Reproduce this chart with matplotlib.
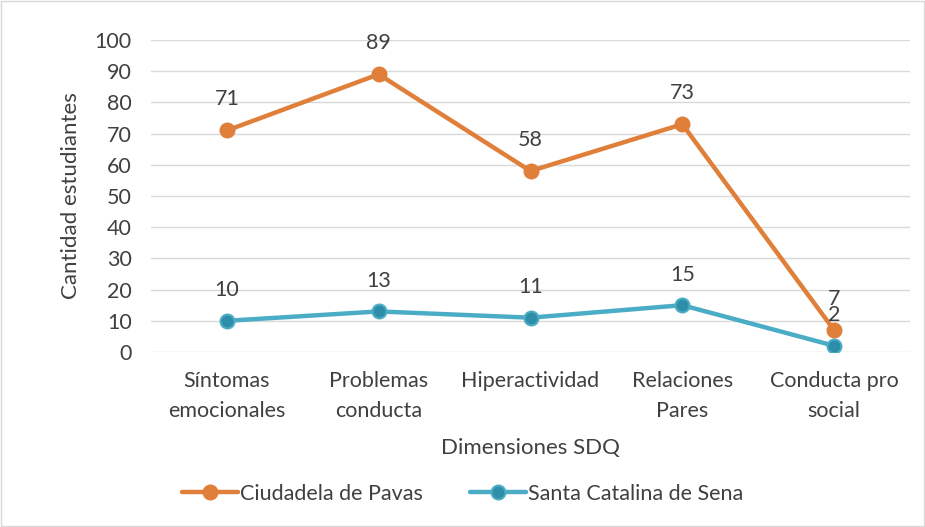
import matplotlib
matplotlib.use("Agg")
import matplotlib.pyplot as plt
from matplotlib.patches import Rectangle

categories = ["Síntomas\nemocionales", "Problemas\nconducta", "Hiperactividad", "Relaciones\nPares", "Conducta pro\nsocial"]
ciudadela = [71, 89, 58, 73, 7]
santa = [10, 13, 11, 15, 2]
yticks = list(range(0, 101, 10))

plt.rcParams['font.family'] = ['Lato', 'DejaVu Sans']
txt = '#404040'
fs = 15.5

fig = plt.figure(figsize=(9.25, 5.27), dpi=100)
ax = fig.add_axes([151/925, 1-352/527, (910-151)/925, (352-40)/527])
x = list(range(len(categories)))

orange = '#E07F3A'
teal = '#4BACC6'
ax.plot(x, ciudadela, color=orange, lw=3.2, marker='o', ms=10, mfc=orange, mec=orange, mew=1.5,
        label='Ciudadela de Pavas', solid_capstyle='round', zorder=3)
ax.plot(x, santa, color=teal, lw=3.2, marker='o', ms=10, mfc='#2E8DA8', mec=teal, mew=1.5,
        label='Santa Catalina de Sena', solid_capstyle='round', zorder=3)

for xi, v in zip(x, ciudadela):
    ax.annotate(str(v), (xi, v), xytext=(0, 22.5), textcoords='offset points', ha='center', va='center',
                fontsize=fs, color=txt)
for xi, v in zip(x, santa):
    ax.annotate(str(v), (xi, v), xytext=(0, 22), textcoords='offset points', ha='center', va='center',
                fontsize=fs, color=txt)

ax.set_xlim(-0.5, len(categories)-0.5)
ax.set_ylim(0, 100)
ax.set_yticks(yticks)
ax.set_xticks(x)
ax.set_xticklabels(categories, fontsize=fs, color=txt, linespacing=1.6)
ax.tick_params(axis='y', labelsize=fs, labelcolor=txt, length=0, pad=14)
ax.tick_params(axis='x', length=0, pad=14)
ax.grid(axis='y', color='#D9D9D9', lw=1)
ax.set_axisbelow(True)
for s in ax.spines.values():
    s.set_visible(False)
ax.set_ylabel('Cantidad estudiantes', fontsize=16, color=txt, labelpad=10)
ax.set_xlabel('Dimensiones SDQ', fontsize=16, color=txt, labelpad=12)

leg = fig.legend(loc='center', bbox_to_anchor=(0.5, 1-494/527), ncol=2, frameon=False,
                 fontsize=fs, handlelength=2.6, handletextpad=0.1, columnspacing=2.2)
for t in leg.get_texts():
    t.set_color(txt)

fig.patches.append(Rectangle((0.001, 0.001), 0.998, 0.997, transform=fig.transFigure,
                             fill=False, edgecolor='#D9D9D9', lw=1))
fig.savefig('out.png', dpi=100)
